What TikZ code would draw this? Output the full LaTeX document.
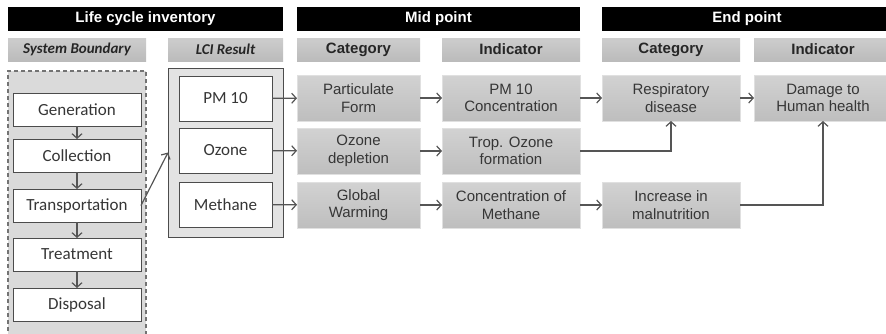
\documentclass[tikz,border=0pt]{standalone}
\usepackage{fontspec}
\setmainfont{Liberation Sans}
\newfontfamily\calibfont{Carlito}
\usetikzlibrary{arrows.meta}

\definecolor{subtop}{HTML}{CDCDCD}
\definecolor{subbot}{HTML}{BBBBBB}
\definecolor{celltop}{HTML}{D2D2D2}
\definecolor{cellbot}{HTML}{BEBEBE}
\definecolor{bndfill}{HTML}{DADADA}
\definecolor{lcifill}{HTML}{E3E3E3}
\definecolor{inktext}{HTML}{363636}
\definecolor{wire}{HTML}{555555}

\begin{document}
\begin{tikzpicture}[x=1pt,y=-1pt,
  hdr/.style={fill=black, text=white, font=\bfseries\fontsize{15}{17}\selectfont,
    anchor=north west, inner sep=0pt, outer sep=0pt, minimum height=24pt},
  sub/.style={top color=subtop, bottom color=subbot, draw=none, text=black!85,
    font=\bfseries\fontsize{15}{17}\selectfont,
    anchor=north west, inner sep=0pt, outer sep=0pt, minimum height=23pt},
  subit/.style={sub, font=\calibfont\bfseries\itshape\fontsize{15}{17}\selectfont},
  boundary/.style={fill=bndfill, draw=black!55, line width=1.5pt, dash pattern=on 4pt off 3pt,
    anchor=north west, inner sep=0pt, outer sep=0pt},
  lcibox/.style={fill=lcifill, draw=black!70, line width=1pt,
    anchor=north west, inner sep=0pt, outer sep=0pt},
  stagebox/.style={fill=white, draw=black!70, line width=1pt, text=inktext,
    font=\calibfont\fontsize{17}{19}\selectfont,
    anchor=north west, inner sep=0pt, outer sep=0pt, minimum width=128pt, minimum height=33pt},
  resbox/.style={stagebox, minimum width=93pt, minimum height=45pt},
  cell/.style={top color=celltop, bottom color=cellbot, draw=black!12, line width=0.6pt,
    text=inktext, align=center, font=\fontsize{15}{17.5}\selectfont,
    anchor=north west, inner sep=0pt, outer sep=0pt, minimum height=46pt},
  flow/.style={draw=wire, line width=1.2pt, -{Straight Barb[length=4.5pt,width=10pt]}}
]
\useasboundingbox (0,0) rectangle (886,333);
\clip (0,0) rectangle (886,333);

% section headers
\node[hdr, minimum width=275pt] (hlci) at (8,7) {Life cycle inventory};
\node[hdr, minimum width=283pt] (hmid) at (297,7) {Mid point};
\node[hdr, minimum width=290pt] (hend) at (602,7) {End point};

% column headers
\node[subit, minimum width=138pt] (ssys) at (8,38) {System Boundary};
\node[subit, minimum width=115pt] (slci) at (168,38) {LCI Result};
\node[sub, minimum width=123pt] (smcat) at (297,38) {Category};
\node[sub, minimum width=138pt] (smind) at (442,38) {Indicator};
\node[sub, minimum width=138pt] (secat) at (602,38) {Category};
\node[sub, minimum width=138pt] (seind) at (754,38) {Indicator};

% system boundary with the waste stages
\node[boundary, minimum width=138pt, minimum height=280pt] (sysbox) at (8,71) {};
\node[stagebox] (gen) at (13,93) {Generation};
\node[stagebox] (coll) at (13,139) {Collection};
\node[stagebox] (trans) at (13,189) {Transportation};
\node[stagebox] (treat) at (13,238) {Treatment};
\node[stagebox] (disp) at (13,288) {Disposal};

% inventory results
\node[lcibox, minimum width=115pt, minimum height=169pt] (lci) at (168,68) {};
\node[resbox] (pm) at (179,76) {PM 10};
\node[resbox] (oz) at (179,128) {Ozone};
\node[resbox] (meth) at (179,182) {Methane};

% mid point
\node[cell, minimum width=123pt] (pf) at (297,75) {Particulate\\Form};
\node[cell, minimum width=123pt] (od) at (297,128) {Ozone\\depletion};
\node[cell, minimum width=123pt] (gw) at (297,182) {Global\\Warming};
\node[cell, minimum width=138pt] (pmc) at (442,75) {PM 10\\Concentration};
\node[cell, minimum width=138pt] (trop) at (442,128) {Trop. Ozone\\formation};
\node[cell, minimum width=138pt] (conc) at (442,182) {Concentration of\\Methane};

% end point
\node[cell, minimum width=138pt] (resp) at (602,75) {Respiratory\\disease};
\node[cell, minimum width=138pt] (incr) at (602,182) {Increase in\\malnutrition};
\node[cell, minimum width=138pt] (dmg) at (754,75) {Damage to\\Human health};

% connectors
\draw[flow] (gen) -- (coll);
\draw[flow] (coll) -- (trans);
\draw[flow] (trans) -- (treat);
\draw[flow] (treat) -- (disp);
\draw[flow] (trans.east) -- (lci.west);

\draw[flow] (pm) -- (pf);
\draw[flow] (oz) -- (od);
\draw[flow] (meth) -- (gw);
\draw[flow] (pf) -- (pmc);
\draw[flow] (od) -- (trop);
\draw[flow] (gw) -- (conc);
\draw[flow] (pmc) -- (resp);
\draw[flow] (conc) -- (incr);
\draw[flow] (trop.east) -| (resp.south);
\draw[flow] (resp) -- (dmg);
\draw[flow] (incr.east) -| (dmg.south);
\end{tikzpicture}
\end{document}
